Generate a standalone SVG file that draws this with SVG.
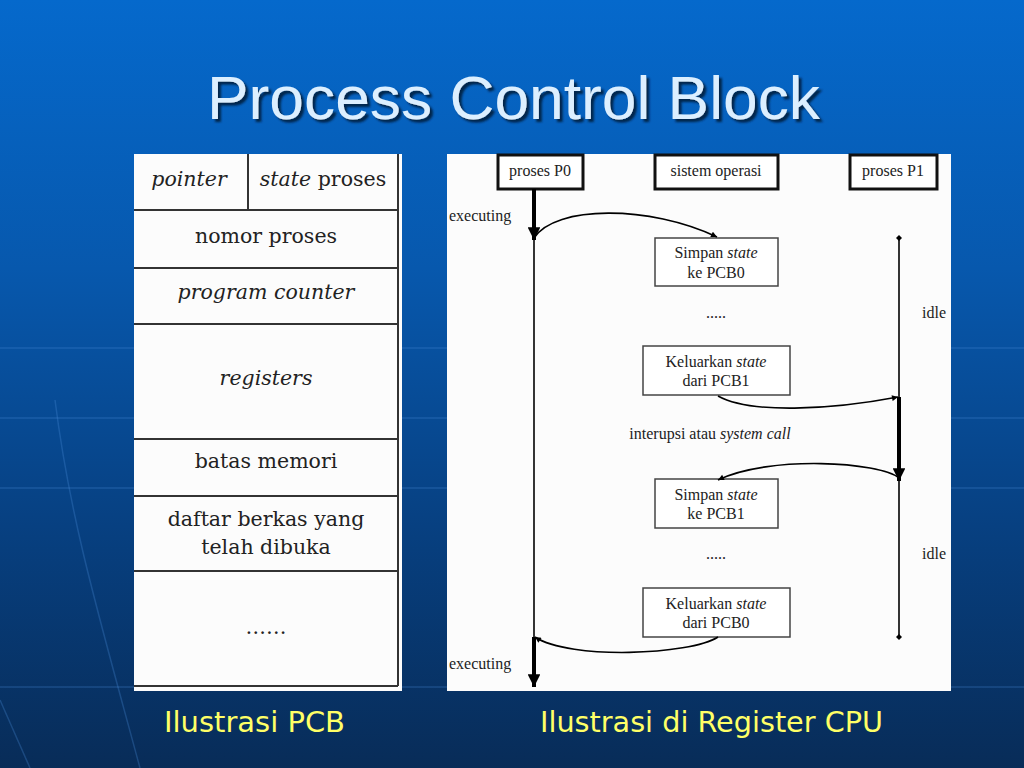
<svg xmlns="http://www.w3.org/2000/svg" width="1024" height="768" viewBox="0 0 1024 768">
<defs>
<linearGradient id="bg" x1="0" y1="0" x2="0" y2="1">
<stop offset="0" stop-color="#0569cc"/>
<stop offset="0.35" stop-color="#0758ad"/>
<stop offset="0.7" stop-color="#073f7f"/>
<stop offset="1" stop-color="#082c58"/>
</linearGradient>
<filter id="shadow" x="-5%" y="-20%" width="110%" height="140%">
<feDropShadow dx="3" dy="3" stdDeviation="1" flood-color="#021a3c" flood-opacity="0.9"/>
</filter>
<marker id="big" viewBox="0 0 10 10" refX="10" refY="5" markerWidth="3.2" markerHeight="3.2" orient="auto" markerUnits="strokeWidth">
<path d="M0,0 L10,5 L0,10 Z" fill="#000"/>
</marker>
<marker id="sm" viewBox="0 0 10 10" refX="10" refY="5" markerWidth="7" markerHeight="6" orient="auto" markerUnits="userSpaceOnUse">
<path d="M0,0 L10,5 L0,10 Z" fill="#000"/>
</marker>
<marker id="dot" viewBox="0 0 10 10" refX="5" refY="5" markerWidth="6" markerHeight="6" markerUnits="userSpaceOnUse">
<path d="M5,0 L10,5 L5,10 L0,5 Z" fill="#000"/>
</marker>
</defs>
<style>
.cell{font-family:"DejaVu Serif","Liberation Serif",serif;font-size:20.5px;fill:#222;text-anchor:middle}
.it{font-style:italic}
.sd{font-family:"Liberation Serif","DejaVu Serif",serif;font-size:16px;fill:#222}
.mid{text-anchor:middle}
.box{fill:#fff;stroke:#444;stroke-width:1.5}
.hbox{fill:#fff;stroke:#111;stroke-width:3}
.rule{stroke:#333;stroke-width:2}
.life{stroke:#000;stroke-width:1.6;fill:none}
.thick{stroke:#000;stroke-width:4;fill:none}
.curve{stroke:#000;stroke-width:1.6;fill:none}
.cap{font-family:"DejaVu Sans","Liberation Sans",sans-serif;font-size:28px;fill:#ffff66}
.grid{stroke:#4a8ad6;stroke-opacity:0.3;stroke-width:1.5;fill:none}
</style>
<rect x="0" y="0" width="1024" height="768" fill="url(#bg)"/>
<g id="background-grid">
<line class="grid" x1="0" y1="348" x2="1024" y2="348"/>
<line class="grid" x1="0" y1="418" x2="1024" y2="418"/>
<line class="grid" x1="0" y1="488" x2="1024" y2="488"/>
<line class="grid" x1="0" y1="687" x2="1024" y2="687"/>
<path class="grid" d="M55,400 C70,520 100,620 140,768"/>
<path class="grid" d="M0,700 L30,768"/>
</g>
<g id="title">
<text x="207" y="119" font-family="Liberation Sans, Arial, sans-serif" font-size="62" fill="#dcefff" textLength="613" lengthAdjust="spacingAndGlyphs" filter="url(#shadow)">Process Control Block</text>
</g>
<g id="pcb">
<rect x="134" y="154" width="268" height="537" fill="#fcfcfc"/>
<line class="rule" x1="398" y1="154" x2="398" y2="686"/>
<line class="rule" x1="134" y1="686" x2="398" y2="686"/>
<line class="rule" x1="248" y1="154" x2="248" y2="210"/>
<line class="rule" x1="134" y1="210" x2="398" y2="210"/>
<line class="rule" x1="134" y1="268" x2="398" y2="268"/>
<line class="rule" x1="134" y1="324" x2="398" y2="324"/>
<line class="rule" x1="134" y1="439" x2="398" y2="439"/>
<line class="rule" x1="134" y1="496" x2="398" y2="496"/>
<line class="rule" x1="134" y1="571" x2="398" y2="571"/>
<text class="cell it" x="189" y="186">pointer</text>
<text class="cell" x="323" y="186"><tspan class="it">state</tspan> proses</text>
<text class="cell" x="266" y="243">nomor proses</text>
<text class="cell it" x="266" y="299">program counter</text>
<text class="cell it" x="266" y="385">registers</text>
<text class="cell" x="266" y="468">batas memori</text>
<text class="cell" x="266" y="526">daftar berkas yang</text>
<text class="cell" x="266" y="554">telah dibuka</text>
<text class="cell" x="266" y="634">……</text>
</g>
<g id="cpu-panel">
<rect x="447" y="154" width="504" height="537" fill="#fcfcfc"/>
</g>
<g id="proses-p0">
<rect class="hbox" x="498" y="155" width="85" height="34"/>
<text class="sd mid" x="540" y="176">proses P0</text>
</g>
<g id="sistem-operasi">
<rect class="hbox" x="655" y="155" width="123" height="34"/>
<text class="sd mid" x="716" y="176">sistem operasi</text>
</g>
<g id="proses-p1">
<rect class="hbox" x="850" y="155" width="87" height="34"/>
<text class="sd mid" x="893" y="176">proses P1</text>
</g>
<g id="simpan-pcb0">
<rect class="box" x="655" y="238" width="123" height="48"/>
<text class="sd mid" x="716" y="258">Simpan <tspan class="it">state</tspan></text>
<text class="sd mid" x="716" y="278">ke PCB0</text>
</g>
<g id="keluarkan-pcb1">
<rect class="box" x="643" y="346" width="147" height="49"/>
<text class="sd mid" x="716" y="367">Keluarkan <tspan class="it">state</tspan></text>
<text class="sd mid" x="716" y="386">dari PCB1</text>
</g>
<g id="simpan-pcb1">
<rect class="box" x="655" y="479" width="123" height="49"/>
<text class="sd mid" x="716" y="500">Simpan <tspan class="it">state</tspan></text>
<text class="sd mid" x="716" y="519">ke PCB1</text>
</g>
<g id="keluarkan-pcb0">
<rect class="box" x="643" y="588" width="147" height="49"/>
<text class="sd mid" x="716" y="609">Keluarkan <tspan class="it">state</tspan></text>
<text class="sd mid" x="716" y="628">dari PCB0</text>
</g>
<g id="labels">
<text class="sd" x="449" y="221">executing</text>
<text class="sd" x="449" y="669">executing</text>
<text class="sd" x="922" y="318">idle</text>
<text class="sd" x="922" y="559">idle</text>
<text class="sd mid" x="716" y="318">.....</text>
<text class="sd mid" x="716" y="559">.....</text>
<text class="sd mid" x="710" y="439">interupsi atau <tspan class="it">system call</tspan></text>
</g>
<g id="connectors">
<line class="thick" x1="534" y1="189" x2="534" y2="240" marker-end="url(#big)"/>
<line class="life" x1="534" y1="238" x2="534" y2="637"/>
<line class="thick" x1="534" y1="637" x2="534" y2="687" marker-end="url(#big)"/>
<line class="life" x1="899" y1="238" x2="899" y2="397" marker-start="url(#dot)"/>
<line class="thick" x1="899" y1="397" x2="899" y2="481" marker-end="url(#big)"/>
<line class="life" x1="899" y1="478" x2="899" y2="637" marker-end="url(#dot)"/>
<path class="curve" d="M534,238 C555,205 650,205 717,237" marker-end="url(#sm)"/>
<path class="curve" d="M718,396 C750,414 830,410 898,397" marker-end="url(#sm)"/>
<path class="curve" d="M899,478 C880,462 770,455 718,480" marker-end="url(#sm)"/>
<path class="curve" d="M718,637 C690,655 570,660 535,637" marker-end="url(#sm)"/>
</g>
<g id="captions">
<text class="cap" x="164" y="732" textLength="181" lengthAdjust="spacingAndGlyphs">Ilustrasi PCB</text>
<text class="cap" x="540" y="732" textLength="343" lengthAdjust="spacingAndGlyphs">Ilustrasi di Register CPU</text>
</g>
</svg>
